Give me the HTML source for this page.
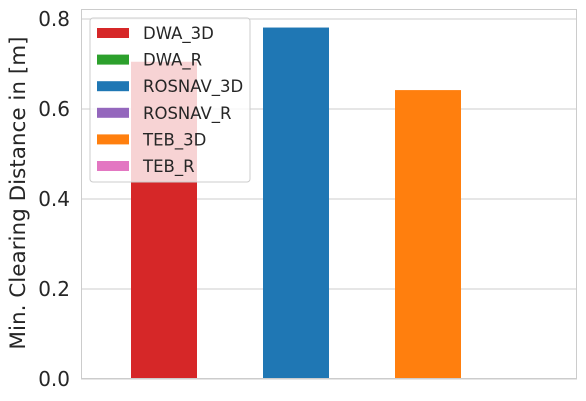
<!DOCTYPE html>
<html><head><meta charset="utf-8"><style>
body{margin:0;background:#fff;}
svg{display:block;font-family:"DejaVu Sans","Liberation Sans",sans-serif;}
</style></head><body>
<svg id="chart" width="586" height="401" xmlns="http://www.w3.org/2000/svg">
<g id="grid"></g><g id="bars"></g><g id="axes"></g><g id="legend"></g>
</svg>
<script>
const categories = ["DWA_3D","DWA_R","ROSNAV_3D","ROSNAV_R","TEB_3D","TEB_R"];
const values = [0.705, 0, 0.781, 0, 0.642, 0];
const colors = ["#d62728","#2ca02c","#1f77b4","#9467bd","#ff7f0e","#e377c2"];
const yTicks = [0.0, 0.2, 0.4, 0.6, 0.8];
const yTickLabels = ["0.0","0.2","0.4","0.6","0.8"];

const NS="http://www.w3.org/2000/svg";
const plotLeft=81,plotRight=577,plotTop=9,plotBottom=379,yMax=0.8222;
function y(v){return plotBottom-(v/yMax)*(plotBottom-plotTop);}
const slot=66, x0=131;
function x(i){return x0+i*slot;}
function mk(tag,attrs,parent){const e=document.createElementNS(NS,tag);for(const k in attrs)e.setAttribute(k,attrs[k]);parent.appendChild(e);return e;}

const grid=document.getElementById('grid');
yTicks.forEach((t,i)=>{
  const l=mk('line',{x1:plotLeft,x2:plotRight,y1:y(t),y2:y(t),stroke:'#cccccc','stroke-width':1},grid);
  
  
});
const bars=document.getElementById('bars');
categories.forEach((c,i)=>{
  if(!values[i])return;
  const r=mk('rect',{x:x(i),y:y(values[i]),width:slot,height:plotBottom-y(values[i]),fill:colors[i]},bars);
  
  
});
const axes=document.getElementById('axes');
const frame=mk('rect',{x:plotLeft+0.5,y:plotTop+0.5,width:plotRight-plotLeft-1,height:plotBottom-plotTop-1,fill:'none',stroke:'#cccccc','stroke-width':1},axes);


yTicks.forEach((t,i)=>{
  const tx=mk('text',{x:70,y:y(t)+7,'text-anchor':'end','font-size':20,fill:'#262626'},axes);
  tx.textContent=yTickLabels[i];
  
  
});
const yt=mk('text',{x:0,y:0,transform:'translate(25,193) rotate(-90)','text-anchor':'middle','font-size':21.5,fill:'#262626'},axes);
yt.textContent="Min. Clearing Distance in [m]";



const lg=document.getElementById('legend');
const box=mk('rect',{x:90,y:18,width:160,height:164,rx:3,fill:'#ffffff','fill-opacity':0.8,stroke:'#cccccc','stroke-width':1},lg);


categories.forEach((c,i)=>{
  const cy=33+i*26.6;
  const p=mk('rect',{x:97,y:cy-5,width:32,height:10,fill:colors[i]},lg);
  
  
  const t=mk('text',{x:143,y:cy+6,'font-size':16.5,fill:'#262626'},lg);
  t.textContent=c;
  
  
});
</script>
</body></html>
